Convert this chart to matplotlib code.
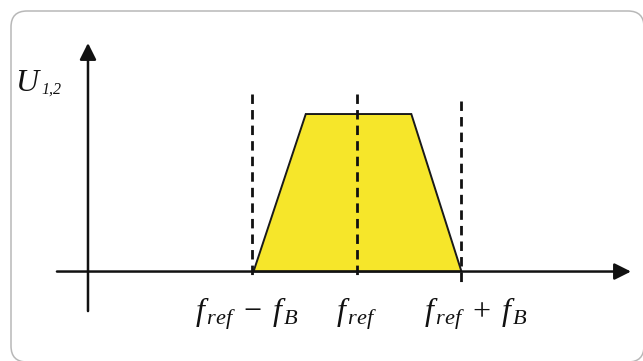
import matplotlib
matplotlib.use("Agg")
import matplotlib.pyplot as plt
from matplotlib.patches import FancyBboxPatch, Polygon
from matplotlib.transforms import IdentityTransform

plt.rcParams['mathtext.fontset'] = 'custom'
plt.rcParams['mathtext.it'] = 'Liberation Serif:italic'
plt.rcParams['mathtext.rm'] = 'Liberation Serif'
plt.rcParams['mathtext.bf'] = 'Liberation Serif:bold'

# ---- data ----
band_labels = [r'$f_{\,ref}\;-\;f_{\,B}$', r'$f_{\,ref}$', r'$f_{\,ref}\;+\;f_{\,B}$']
band_x = [-1.0, 0.0, 1.0]                 # f_ref - f_B, f_ref, f_ref + f_B
trap_x = [-0.99, -0.49, 0.52, 1.0]        # passband corners
trap_y = [0.0, 1.0, 1.0, 0.0]
dash_top = [1.13, 1.13, 1.08]
dash_bottom = [-0.04, -0.04, -0.08]
y_label = 'U'
y_sub = '1,2'

# ---- figure ----
W, H, DPI = 643, 361, 100
fig = plt.figure(figsize=(W / DPI, H / DPI), dpi=DPI)
ax = fig.add_axes([0, 0, 1, 1])
ax.set_xlim(-3.416, 2.737)
ax.set_ylim(-0.568, 1.724)
ax.axis('off')

# rounded frame
frame = FancyBboxPatch((11, -1), 633, 351,
                       boxstyle="round,pad=0,rounding_size=16",
                       transform=IdentityTransform(), fill=False,
                       edgecolor='#b8b8b8', linewidth=1.1)
fig.patches.append(frame)

# passband trapezoid
poly = Polygon(list(zip(trap_x, trap_y)), closed=True, facecolor='#f6e62a',
               edgecolor='#1a1a1a', linewidth=1.4, joinstyle='miter', zorder=2)
ax.add_patch(poly)

# dashed markers (drawn top-down so a dash starts at the top)
for x, t, b in zip(band_x, dash_top, dash_bottom):
    ax.plot([x, x], [t, b], color='#111111', linewidth=2.0,
            linestyle=(0, (3.4, 2.2)), zorder=3)

# axes arrows
arrow_kw = dict(arrowstyle='-|>', mutation_scale=25, lw=1.8, color='#111111',
                shrinkA=0, shrinkB=0)
ax.annotate('', xy=(2.622, 0.0), xytext=(-2.871, 0.0), arrowprops=arrow_kw, zorder=4)
ax.annotate('', xy=(-2.574, 1.451), xytext=(-2.574, -0.251), arrowprops=arrow_kw, zorder=4)

# y label
ax.text(-3.27, 1.146, y_label, fontsize=23, family='Liberation Serif',
        style='italic', ha='left', va='baseline', color='#111111')
ax.text(-3.015, 1.130, y_sub, fontsize=11.5, family='Liberation Serif',
        style='italic', ha='left', va='baseline', color='#111111')

# band labels
label_shift = [-0.048, 0.0, 0.144]
for x, s, lab in zip(band_x, label_shift, band_labels):
    ax.text(x + s, -0.308, lab, fontsize=23, ha='center', va='baseline',
            color='#111111')

fig.savefig('out.png', dpi=DPI)
